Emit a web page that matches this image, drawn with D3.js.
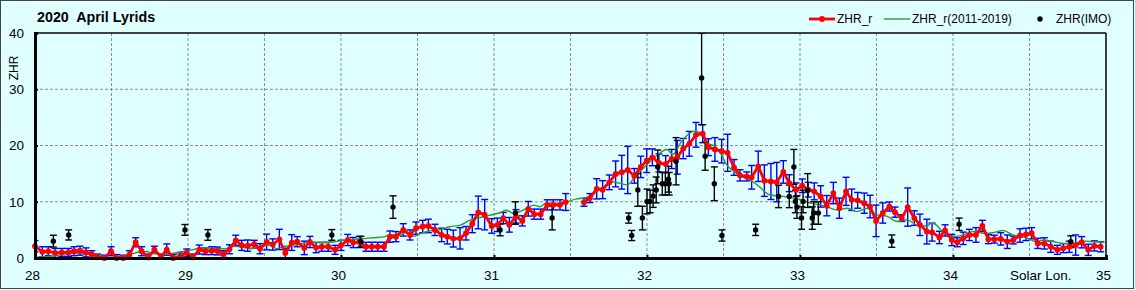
<!DOCTYPE html>
<html>
<head>
<meta charset="utf-8">
<script src="https://cdn.jsdelivr.net/npm/d3@7/dist/d3.min.js"></script>
<style>
body { margin: 0; background: #e0ffff; }
svg text { font-family: "Liberation Sans", Arial, sans-serif; fill: #000; }
</style>
</head>
<body>
<svg id="chart" width="1135" height="290"></svg>
<script>
// DATA
// [solar longitude, ZHR_r, error] -- hourly values, null marks the gap
var zhr_r = [
    [28.000, 2.1, 1.0], [28.048, 1.1, 0.9], [28.087, 1.2, 0.8], [28.131, 0.9, 0.8], [28.175, 1.0, 0.7],
    [28.218, 1.0, 0.7], [28.255, 1.2, 0.8], [28.294, 1.3, 0.8], [28.333, 1.0, 0.8], [28.371, 0.7, 0.6],
    [28.410, 0.2, 0.5], [28.453, 0.0, 0.5], [28.497, 1.2, 0.8], [28.534, 0.0, 0.6], [28.576, 0.0, 0.5],
    [28.617, 0.6, 0.7], [28.658, 2.8, 0.8], [28.697, 1.2, 0.8], [28.741, 0.1, 0.6], [28.780, 1.5, 0.6],
    [28.824, 0.2, 0.5], [28.861, 1.5, 1.0], [28.904, 0.0, 0.6], [28.948, 0.3, 0.6], [28.992, 0.9, 0.7],
    [29.031, 0.1, 0.6], [29.074, 1.5, 0.8], [29.114, 1.2, 0.6], [29.155, 1.3, 0.7], [29.193, 1.25, 0.7],
    [29.232, 0.7, 0.6], [29.271, 1.55, 0.8], [29.312, 3.15, 0.9], [29.351, 2.25, 0.9], [29.390, 2.2, 1.0],
    [29.433, 2.45, 0.7], [29.471, 1.65, 0.9], [29.514, 2.85, 1.4], [29.554, 2.4, 1.0], [29.597, 3.3, 1.8],
    [29.636, 0.85, 0.9], [29.678, 2.75, 1.4], [29.714, 2.9, 0.9], [29.760, 1.8, 1.2], [29.797, 2.85, 1.0],
    [29.837, 1.85, 0.9], [29.874, 2.0, 0.8], [29.917, 2.0, 0.8], [29.961, 1.45, 0.8], [30.000, 2.25, 0.9],
    [30.044, 3.2, 1.0], [30.080, 2.75, 0.9], [30.120, 2.85, 1.0], [30.163, 2.0, 0.8], [30.201, 2.0, 0.8],
    [30.240, 2.0, 0.8], [30.281, 2.0, 0.8], [30.320, 3.8, 1.0], [30.359, 3.8, 0.9], [30.407, 5.0, 1.1],
    [30.451, 4.1, 0.9], [30.490, 5.3, 1.1], [30.534, 5.6, 1.1], [30.571, 5.7, 1.2], [30.614, 5.0, 1.0],
    [30.658, 4.1, 1.2], [30.695, 3.8, 1.3], [30.734, 3.45, 1.5], [30.778, 3.5, 1.9], [30.817, 4.4, 1.2],
    [30.858, 6.1, 1.6], [30.897, 8.1, 2.9], [30.939, 7.7, 2.7], [30.985, 5.7, 1.3], [31.022, 5.9, 1.2],
    [31.061, 7.1, 1.0], [31.100, 5.9, 1.3], [31.144, 7.4, 1.2], [31.185, 6.6, 0.9], [31.224, 8.75, 1.3],
    [31.263, 7.8, 0.9], [31.305, 7.8, 0.9], [31.348, 9.45, 0.9], [31.388, 9.45, 0.9], [31.431, 9.45, 0.9],
    [31.469, 9.95, 1.5], [31.530, null, null],
    [31.588, 9.9, 0.7], [31.627, 10.65, 0.8], [31.671, 12.3, 1.8], [31.710, 12.15, 1.6], [31.754, 13.45, 1.3],
    [31.795, 14.95, 2.3], [31.835, 15.25, 3.0], [31.874, 15.65, 4.2], [31.917, 14.6, 1.3], [31.959, 16.2, 1.9],
    [31.998, 17.3, 2.1], [32.035, 17.9, 1.5], [32.078, 16.9, 1.6], [32.122, 16.7, 1.5], [32.161, 17.6, 1.7],
    [32.198, 17.9, 3.0], [32.237, 19.45, 1.8], [32.276, 20.3, 2.2], [32.320, 21.9, 2.2], [32.364, 22.1, 1.6],
    [32.401, 19.7, 1.5], [32.444, 19.3, 2.1], [32.488, 19.0, 2.1], [32.527, 18.7, 3.3], [32.569, 16.1, 1.4],
    [32.608, 14.7, 1.0], [32.652, 14.5, 0.8], [32.684, 14.35, 2.1], [32.727, 16.3, 2.7], [32.767, 13.75, 2.8],
    [32.810, 13.6, 3.2], [32.848, 13.5, 3.5], [32.891, 15.3, 2.0], [32.930, 13.3, 1.5], [32.974, 12.15, 1.2],
    [33.015, 12.85, 1.2], [33.054, 12.15, 1.3], [33.093, 11.85, 1.5], [33.135, 10.95, 1.9], [33.175, 9.3, 1.8],
    [33.218, 11.55, 1.9], [33.257, 8.85, 1.8], [33.301, 11.85, 2.5], [33.338, 10.35, 1.9], [33.377, 10.25, 1.4],
    [33.420, 9.75, 1.8], [33.458, 9.15, 2.0], [33.497, 6.6, 2.8], [33.541, 8.0, 1.8], [33.584, 9.15, 0.8],
    [33.621, 8.15, 0.9], [33.665, 7.1, 0.6], [33.704, 9.05, 3.4], [33.747, 7.1, 1.3], [33.784, 5.9, 1.9],
    [33.829, 4.7, 2.2], [33.863, 4.6, 1.6], [33.911, 3.65, 1.1], [33.948, 4.9, 1.0], [33.992, 3.2, 1.0],
    [34.028, 2.8, 0.8], [34.067, 3.5, 1.1], [34.107, 4.1, 1.0], [34.150, 4.1, 1.3], [34.192, 5.7, 1.0],
    [34.231, 3.35, 0.8], [34.270, 3.35, 0.7], [34.312, 3.4, 1.1], [34.355, 2.9, 1.2], [34.394, 3.2, 0.7],
    [34.438, 4.0, 1.2], [34.477, 4.2, 1.1], [34.514, 4.4, 1.0], [34.554, 2.6, 0.9], [34.597, 2.6, 1.0],
    [34.639, 2.0, 1.0], [34.682, 1.45, 0.8], [34.721, 1.75, 0.8], [34.760, 2.0, 1.0], [34.802, 2.3, 1.8],
    [34.841, 2.8, 1.0], [34.884, 1.45, 1.0], [34.924, 2.15, 0.9], [34.965, 2.0, 0.9]
];

// [solar longitude, ZHR_r average 2011-2019]
var zhr_avg = [
    [28.00, 0.1], [28.05, 0.2], [28.12, 0.35], [28.21, 0.8], [28.29, 0.9], [28.36, 0.6], [28.42, 0.2],
    [28.51, 0.05], [28.56, 0.3], [28.62, 0.65], [28.69, 1.1], [28.73, 1.15], [28.77, 0.8], [28.86, 0.65],
    [28.95, 1.1], [28.99, 1.25], [29.06, 1.65], [29.12, 1.85], [29.19, 1.65], [29.25, 1.65], [29.30, 2.1],
    [29.34, 2.0], [29.41, 1.65], [29.47, 2.0], [29.54, 2.25], [29.58, 1.65], [29.62, 2.0], [29.67, 2.2],
    [29.73, 2.5], [29.82, 2.85], [29.88, 2.7], [29.95, 2.85], [30.02, 3.15], [30.08, 3.3], [30.15, 3.45],
    [30.21, 3.6], [30.28, 3.75], [30.32, 4.15], [30.39, 4.05], [30.43, 4.65], [30.47, 3.85], [30.52, 4.35],
    [30.58, 4.8], [30.65, 5.05], [30.71, 5.55], [30.78, 5.85], [30.84, 6.7], [30.91, 7.2], [30.97, 7.6],
    [31.04, 8.05], [31.08, 8.5], [31.13, 7.9], [31.19, 8.5], [31.26, 9.4], [31.30, 9.1], [31.34, 9.75],
    [31.39, 9.75], [31.41, 9.65], [31.47, 9.9], [31.54, 10.5], [31.58, 10.65], [31.63, 10.95], [31.67, 11.85],
    [31.71, 12.45], [31.76, 13.6], [31.82, 13.3], [31.87, 13.0], [31.93, 14.8], [32.00, 16.6], [32.06, 18.1],
    [32.13, 19.3], [32.17, 18.4], [32.22, 20.5], [32.27, 22.0], [32.31, 22.55], [32.36, 22.0], [32.39, 20.5],
    [32.44, 19.9], [32.48, 18.7], [32.52, 16.6], [32.57, 15.4], [32.61, 14.5], [32.65, 14.2], [32.72, 13.0],
    [32.80, 11.25], [32.89, 10.95], [32.98, 10.5], [33.04, 10.05], [33.07, 9.75], [33.13, 9.45], [33.17, 9.15],
    [33.24, 8.55], [33.31, 8.85], [33.37, 8.25], [33.44, 8.85], [33.50, 7.7], [33.57, 7.4], [33.63, 6.5],
    [33.70, 6.8], [33.76, 5.9], [33.83, 5.7], [33.86, 6.2], [33.89, 5.9], [33.94, 4.4], [34.00, 3.8],
    [34.07, 4.1], [34.13, 4.7], [34.20, 4.4], [34.26, 4.5], [34.33, 4.9], [34.39, 4.1], [34.46, 3.7],
    [34.50, 3.35], [34.54, 2.9], [34.59, 3.2], [34.66, 2.9], [34.72, 2.6], [34.79, 2.6], [34.85, 3.0],
    [34.92, 2.9], [34.99, 2.8]
];

// [solar longitude, ZHR (IMO), error]
var zhr_imo = [
    [28.12, 3.0, 1.05], [28.22, 4.1, 0.9], [28.98, 5.0, 0.95], [29.13, 4.1, 0.95], [29.94, 4.1, 0.95],
    [30.13, 2.9, 0.95], [30.34, 9.05, 2.0], [31.04, 5.0, 1.05], [31.14, 8.0, 2.0], [31.38, 7.1, 2.1],
    [31.88, 7.1, 0.9], [31.90, 4.0, 0.9], [31.94, 12.1, 2.9], [31.97, 7.1, 2.1], [32.00, 10.05, 2.2],
    [32.02, 10.05, 2.0], [32.04, 11.0, 2.0], [32.06, 12.1, 2.3], [32.07, 16.2, 3.0], [32.10, 13.2, 2.0],
    [32.12, 13.2, 2.0], [32.14, 14.0, 2.3], [32.145, 13.2, 2.0], [32.19, 17.2, 4.2], [32.357, 32.0, 8.3],
    [32.38, 18.1, 2.5], [32.44, 13.2, 3.0], [32.49, 4.0, 1.0], [32.71, 5.0, 1.0], [32.86, 10.95, 2.0],
    [32.93, 10.95, 2.0], [32.96, 16.2, 3.1], [32.97, 10.05, 2.0], [32.98, 9.05, 2.0], [33.01, 7.1, 2.0],
    [33.02, 10.05, 2.0], [33.05, 12.0, 3.0], [33.08, 7.1, 2.0], [33.09, 8.0, 2.0], [33.12, 8.0, 2.0],
    [33.60, 3.0, 1.1], [34.04, 6.0, 1.1], [34.77, 2.9, 1.05]
];

var x_ticks = [28, 29, 30, 31, 32, 33, 34, 35];
var x_grid = [28.5, 29, 29.5, 30, 30.5, 31, 31.5, 32, 32.5, 33, 33.5, 34, 34.5];
var y_ticks = [0, 10, 20, 30, 40];
var y_grid = [10, 20, 30];
var legend_labels = ['ZHR_r', 'ZHR_r(2011-2019)', 'ZHR(IMO)'];

// CHART
var chrt = {
    config: {
        left: 35, right: 1106, top: 33, bottom: 258,
        red: '#ff0000', blue: '#0000ff', green: '#2f9a2f', grid: '#8c8c8c'
    },
    error_bars: function(g, data, color) {
        var x = this.x, y = this.y, cap = 3.5;
        var lo = function(d) { return y(Math.max(0, d[1] - d[2])); };
        var hi = function(d) { return y(Math.min(40, d[1] + d[2])); };
        var bars = g.selectAll(null).data(data).enter().append('g')
            .attr('stroke', color).attr('stroke-width', 1.4);
        bars.append('line')
            .attr('x1', function(d) { return x(d[0]); }).attr('x2', function(d) { return x(d[0]); })
            .attr('y1', lo).attr('y2', hi);
        bars.append('line')
            .attr('x1', function(d) { return x(d[0]) - cap; }).attr('x2', function(d) { return x(d[0]) + cap; })
            .attr('y1', lo).attr('y2', lo);
        bars.append('line')
            .attr('x1', function(d) { return x(d[0]) - cap; }).attr('x2', function(d) { return x(d[0]) + cap; })
            .attr('y1', hi).attr('y2', hi);
    },
    build_chart: function() {
        var c = this.config;
        var svg = d3.select('svg#chart');
        var x = this.x = d3.scaleLinear().domain([28, 35]).range([c.left, c.right]);
        var y = this.y = d3.scaleLinear().domain([0, 40]).range([c.bottom, c.top]);

        // frame round the whole picture
        svg.append('rect').attr('x', 0.5).attr('y', 0.5).attr('width', 1133).attr('height', 288)
            .attr('fill', '#e0ffff').attr('stroke', '#444').attr('stroke-width', 1);

        // title
        svg.append('text').attr('x', 37).attr('y', 22)
            .attr('font-size', 14.3).attr('font-weight', 'bold')
            .attr('xml:space', 'preserve').text('2020  April Lyrids');

        // grid
        svg.append('g').selectAll('line').data(x_grid).enter().append('line')
            .attr('x1', function(d) { return x(d); }).attr('x2', function(d) { return x(d); })
            .attr('y1', c.top).attr('y2', c.bottom)
            .attr('stroke', c.grid).attr('stroke-dasharray', '3,2');
        svg.append('g').selectAll('line').data(y_grid).enter().append('line')
            .attr('x1', c.left).attr('x2', c.right)
            .attr('y1', function(d) { return y(d); }).attr('y2', function(d) { return y(d); })
            .attr('stroke', c.grid).attr('stroke-dasharray', '3,2');

        svg.append('clipPath').attr('id', 'plot-clip').append('rect')
            .attr('x', c.left).attr('y', c.top).attr('width', c.right - c.left).attr('height', c.bottom - c.top);
        var plot = svg.append('g').attr('clip-path', 'url(#plot-clip)');

        // blue error bars of ZHR_r
        var red_pts = zhr_r.filter(function(d) { return d[1] !== null; });
        this.error_bars(plot.append('g'), red_pts, c.blue);

        // green line, 2011-2019
        var l_avg = d3.line()
            .x(function(d) { return x(d[0]); })
            .y(function(d) { return y(d[1]); })
            .curve(d3.curveMonotoneX);
        plot.append('path').datum(zhr_avg).attr('d', l_avg)
            .attr('fill', 'none').attr('stroke', c.green).attr('stroke-width', 1.4);

        // red line ZHR_r
        var l_r = d3.line()
            .defined(function(d) { return d[1] !== null; })
            .x(function(d) { return x(d[0]); })
            .y(function(d) { return y(d[1]); });
        svg.append('path').datum(zhr_r).attr('d', l_r)
            .attr('fill', 'none').attr('stroke', c.red).attr('stroke-width', 2.8)
            .attr('stroke-linejoin', 'round');
        svg.append('g').selectAll('circle').data(red_pts).enter().append('circle')
            .attr('cx', function(d) { return x(d[0]); }).attr('cy', function(d) { return y(d[1]); })
            .attr('r', 2.9).attr('fill', c.red);

        // IMO points
        this.error_bars(plot.append('g'), zhr_imo, '#000');
        svg.append('g').selectAll('circle').data(zhr_imo).enter().append('circle')
            .attr('cx', function(d) { return x(d[0]); }).attr('cy', function(d) { return y(d[1]); })
            .attr('r', 2.7).attr('fill', '#000');

        // plot border and axes
        svg.append('line').attr('x1', c.left).attr('x2', c.right).attr('y1', c.top).attr('y2', c.top)
            .attr('stroke', '#000').attr('stroke-width', 1.5);
        svg.append('line').attr('x1', c.right).attr('x2', c.right).attr('y1', c.top).attr('y2', c.bottom)
            .attr('stroke', '#000').attr('stroke-width', 1.5);

        var ax = svg.append('g').attr('transform', 'translate(0,' + c.bottom + ')')
            .call(d3.axisBottom(x).tickValues(x_ticks).tickSize(-3).tickPadding(12).tickFormat(d3.format('d')));
        var ay = svg.append('g').attr('transform', 'translate(' + c.left + ',0)')
            .call(d3.axisLeft(y).tickValues(y_ticks).tickSize(-3).tickPadding(11));
        [ax, ay].forEach(function(a) {
            a.select('.domain').attr('stroke', '#000').attr('stroke-width', 3);
            a.selectAll('.tick line').attr('stroke', '#000').attr('stroke-width', 2);
            a.selectAll('.tick text').attr('font-size', 13.5).attr('font-family', null);
        });
        ax.selectAll('.tick text').attr('dx', -3);

        svg.append('text').attr('x', 1010).attr('y', 280).attr('font-size', 13.5).text('Solar Lon.');
        svg.append('text').attr('transform', 'translate(18,68) rotate(-90)')
            .attr('text-anchor', 'middle').attr('font-size', 12).text('ZHR');

        // legend
        var lg = svg.append('g').attr('font-size', 12);
        lg.append('line').attr('x1', 809).attr('x2', 835).attr('y1', 19).attr('y2', 19)
            .attr('stroke', c.red).attr('stroke-width', 2.8);
        lg.append('circle').attr('cx', 822).attr('cy', 19).attr('r', 2.9).attr('fill', c.red);
        lg.append('text').attr('x', 837).attr('y', 23).text(legend_labels[0]);
        lg.append('line').attr('x1', 884).attr('x2', 910).attr('y1', 19).attr('y2', 19)
            .attr('stroke', c.green).attr('stroke-width', 1.4);
        lg.append('text').attr('x', 912).attr('y', 23).text(legend_labels[1]);
        lg.append('circle').attr('cx', 1040).attr('cy', 19).attr('r', 2.7).attr('fill', '#000');
        lg.append('text').attr('x', 1056).attr('y', 23).text(legend_labels[2]);
    },
    init: function() {
        chrt.build_chart();
    }
};

chrt.init();
</script>
</body>
</html>
